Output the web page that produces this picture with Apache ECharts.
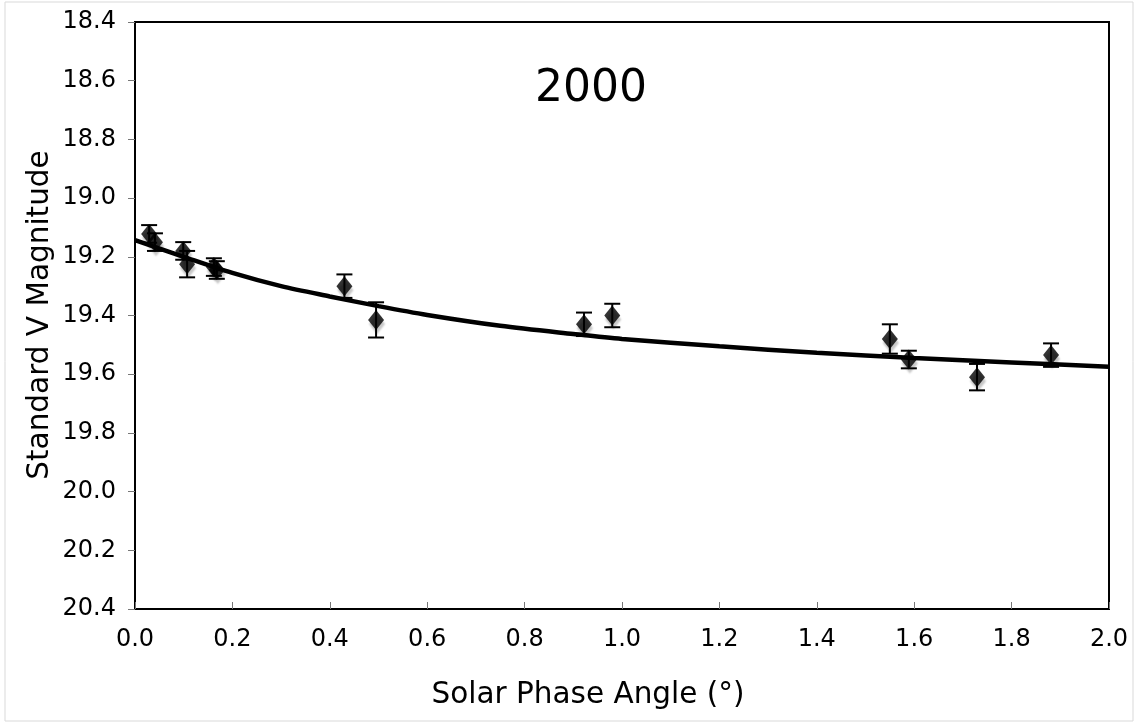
<!DOCTYPE html>
<html>
<head>
<meta charset="utf-8">
<script src="https://cdn.jsdelivr.net/npm/echarts@6/dist/echarts.min.js"></script>
<style>
html,body{margin:0;padding:0;background:#fff;}
#chart{width:1138px;height:725px;}
</style>
</head>
<body>
<div id="chart"></div>
<script>
// Observations
var phase = [0.029, 0.041, 0.099, 0.107, 0.162, 0.168, 0.430, 0.495, 0.922, 0.980, 1.550, 1.589, 1.729, 1.881];
var mag   = [19.122, 19.15, 19.18, 19.225, 19.235, 19.245, 19.30, 19.415, 19.43, 19.40, 19.48, 19.55, 19.61, 19.535];
var err   = [0.03, 0.03, 0.03, 0.045, 0.03, 0.03, 0.04, 0.06, 0.04, 0.04, 0.05, 0.03, 0.045, 0.04];
// Fitted phase curve
var fitPhase = [0.0, 0.1, 0.2, 0.3, 0.4, 0.5, 0.6, 0.75, 0.9, 1.0, 1.2, 1.4, 1.6, 1.8, 2.0];
var fitMag   = [19.143, 19.20, 19.255, 19.30, 19.335, 19.368, 19.398, 19.435, 19.463, 19.48, 19.505, 19.527, 19.545, 19.56, 19.575];
// Axis ticks
var xTicks = ['0.0','0.2','0.4','0.6','0.8','1.0','1.2','1.4','1.6','1.8','2.0'];
var yTicks = ['18.4','18.6','18.8','19.0','19.2','19.4','19.6','19.8','20.0','20.2','20.4'];
var titleText = '2000';
var xTitle = 'Solar Phase Angle (°)';
var yTitle = 'Standard V Magnitude';

var FONT = '"DejaVu Sans", Verdana, sans-serif';
var pts = phase.map(function(p, i){ return [p, mag[i]]; });
var bars = phase.map(function(p, i){ return [p, mag[i] - err[i], mag[i] + err[i]]; });
var fit = fitPhase.map(function(p, i){ return [p, fitMag[i]]; });

var chart = echarts.init(document.getElementById('chart'));
chart.setOption({
  animation: false,
  backgroundColor: '#fff',
  grid: {left: 135, top: 22, width: 974, height: 587, show: true, borderColor: '#000', borderWidth: 2, backgroundColor: 'transparent'},
  xAxis: {
    type: 'value', min: 0, max: 2, interval: 0.2,
    axisLine: {show: true, onZero: false, lineStyle: {color: '#000', width: 2}},
    axisTick: {show: true, inside: true, length: 7, lineStyle: {color: '#777', width: 1}},
    splitLine: {show: false},
    axisLabel: {color: '#000', fontFamily: FONT, fontSize: 24, margin: 19,
      formatter: function(v){ var i = Math.round(v / 0.2); return xTicks[i] || ''; }}
  },
  yAxis: {
    type: 'value', min: 18.4, max: 20.4, interval: 0.2, inverse: true,
    axisLine: {show: true, lineStyle: {color: '#000', width: 2}},
    axisTick: {show: true, inside: false, length: 7, lineStyle: {color: '#777', width: 1}},
    splitLine: {show: false},
    axisLabel: {color: '#000', fontFamily: FONT, fontSize: 24, margin: 19,
      formatter: function(v){ var i = Math.round((v - 18.4) / 0.2); return yTicks[i] || ''; }}
  },
  graphic: [
    {type: 'rect', shape: {x: 5, y: 2, width: 1128, height: 719}, style: {fill: 'none', stroke: '#d9d9d9', lineWidth: 1}, z: -1},
    {type: 'text', x: 591, y: 90, style: {text: titleText, font: '44px ' + FONT, fill: '#000', textAlign: 'center', textVerticalAlign: 'middle'}},
    {type: 'text', x: 588, y: 695, style: {text: xTitle, font: '29.5px ' + FONT, fill: '#000', textAlign: 'center', textVerticalAlign: 'middle'}},
    {type: 'text', x: 40, y: 315, rotation: Math.PI / 2, style: {text: yTitle, font: '29.5px ' + FONT, fill: '#000', textAlign: 'center', textVerticalAlign: 'middle'}}
  ],
  series: [
    {
      type: 'line', data: fit, smooth: 0.3, symbol: 'none',
      lineStyle: {color: '#000', width: 4.5}, z: 2
    },
    {
      type: 'custom', data: bars, z: 3,
      renderItem: function(params, api){
        var x = api.value(0);
        var lo = api.coord([x, api.value(1)]);
        var hi = api.coord([x, api.value(2)]);
        var hw = 8;
        var st = {stroke: '#000', lineWidth: 2};
        return {type: 'group', children: [
          {type: 'line', shape: {x1: lo[0], y1: lo[1], x2: hi[0], y2: hi[1]}, style: st},
          {type: 'line', shape: {x1: lo[0]-hw, y1: lo[1], x2: lo[0]+hw, y2: lo[1]}, style: st},
          {type: 'line', shape: {x1: hi[0]-hw, y1: hi[1], x2: hi[0]+hw, y2: hi[1]}, style: st}
        ]};
      }
    },
    {
      type: 'scatter', data: pts, symbol: 'diamond', symbolSize: [16, 20], z: 4,
      itemStyle: {color: '#000', shadowColor: 'rgba(0,0,0,0.28)', shadowBlur: 2, shadowOffsetX: 1, shadowOffsetY: 4}
    }
  ]
});
</script>
</body>
</html>
